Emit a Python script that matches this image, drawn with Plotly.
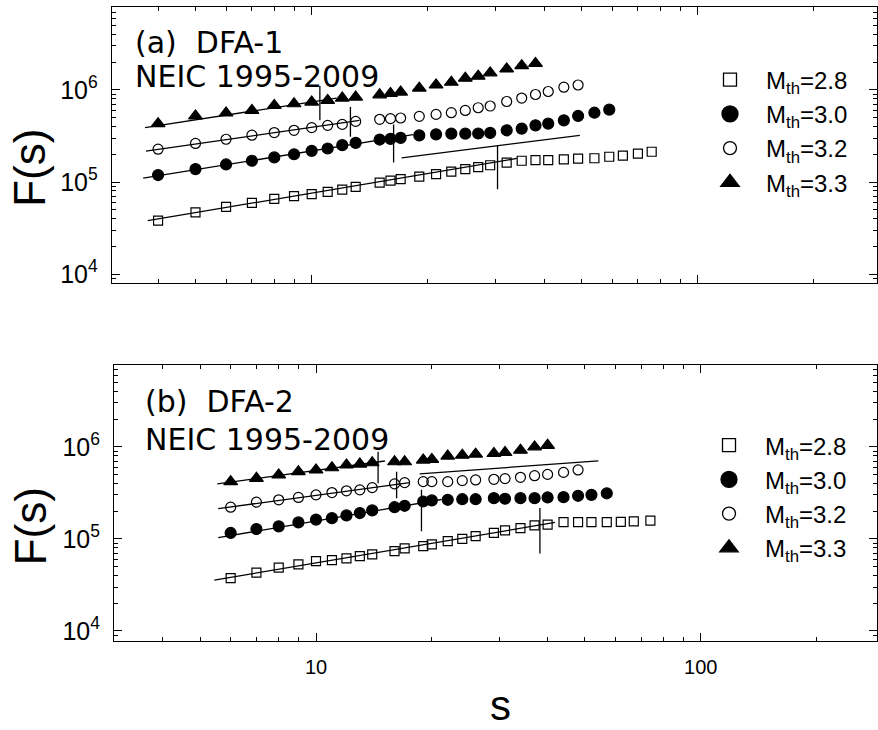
import plotly.graph_objects as go

# ---------------- data: panel (a) DFA-1 ----------------
s_a_28 = [4, 5, 6, 7, 8, 9, 10, 11, 12, 13, 15, 16, 17, 19, 21, 23, 25, 27, 29,
          32, 35, 38, 41, 45, 49, 54, 59, 64, 70, 76]
F_a_28 = [3.80e4, 4.68e4, 5.37e4, 5.93e4, 6.55e4, 7.01e4, 7.37e4, 7.80e4, 8.28e4, 8.84e4,
          9.85e4, 1.035e5, 1.077e5, 1.143e5, 1.22e5, 1.294e5, 1.38e5, 1.45e5, 1.52e5,
          1.62e5, 1.70e5, 1.73e5, 1.73e5, 1.76e5, 1.79e5, 1.81e5, 1.88e5, 1.93e5, 2.03e5, 2.13e5]
s_a_30 = [4, 5, 6, 7, 8, 9, 10, 11, 12, 13, 15, 16, 17, 19, 21, 23, 25, 27, 29,
          32, 35, 38, 41, 45, 49, 54, 59]
F_a_30 = [1.19e5, 1.38e5, 1.55e5, 1.70e5, 1.85e5, 2.0e5, 2.18e5, 2.31e5, 2.51e5, 2.66e5,
          2.89e5, 2.94e5, 3.01e5, 3.21e5, 3.29e5, 3.35e5, 3.35e5, 3.36e5, 3.41e5,
          3.64e5, 3.80e5, 4.12e5, 4.30e5, 4.67e5, 5.21e5, 5.65e5, 6.10e5]
s_a_32 = [4, 5, 6, 7, 8, 9, 10, 11, 12, 13, 15, 16, 17, 19, 21, 23, 25, 27, 29,
          32, 35, 38, 41, 45, 49]
F_a_32 = [2.27e5, 2.62e5, 2.91e5, 3.22e5, 3.44e5, 3.64e5, 3.89e5, 4.12e5, 4.22e5, 4.55e5,
          4.79e5, 4.87e5, 4.95e5, 5.16e5, 5.42e5, 5.65e5, 5.98e5, 6.40e5, 6.68e5,
          7.48e5, 8.15e5, 8.91e5, 9.60e5, 1.07e6, 1.13e6]
s_a_33 = [4, 5, 6, 7, 8, 9, 10, 11, 12, 13, 15, 16, 17, 19, 21, 23, 25, 27, 29,
          32, 35, 38]
F_a_33 = [4.30e5, 5.21e5, 5.61e5, 5.98e5, 6.78e5, 7.07e5, 7.38e5, 7.67e5, 8.15e5, 8.35e5,
          8.84e5, 9.13e5, 9.46e5, 1.045e6, 1.13e6, 1.21e6, 1.34e6, 1.41e6, 1.53e6,
          1.69e6, 1.83e6, 1.94e6]

# fitted power-law segments (end points) and crossover markers, panel (a)
fit_a_s = [[3.76, 34.0], [3.66, 18.3], [3.72, 13.3], [3.70, 11.6], [17.1, 49.5]]
fit_a_F = [[3.8e4, 1.80e5], [1.10e5, 3.27e5], [2.16e5, 4.67e5], [3.89e5, 8.15e5], [1.83e5, 3.21e5]]
cross_a_s = [30.3, 16.3, 12.6, 10.5]
cross_a_F = [[8.34e4, 2.49e5], [1.63e5, 4.2e5], [3.09e5, 6.52e5], [4.67e5, 1.10e6]]

# ---------------- data: panel (b) DFA-2 ----------------
s_b_28 = [6, 7, 8, 9, 10, 11, 12, 13, 14, 16, 17, 19, 20, 22, 24, 26, 29,
          31, 34, 37, 40, 44, 48, 52, 57, 62, 67, 74]
F_b_28 = [3.74e4, 4.30e4, 4.87e4, 5.29e4, 5.74e4, 5.89e4, 6.15e4, 6.51e4, 6.79e4, 7.37e4,
          7.88e4, 8.34e4, 8.70e4, 9.44e4, 1.0e5, 1.07e5, 1.16e5, 1.24e5, 1.31e5, 1.40e5,
          1.43e5, 1.52e5, 1.52e5, 1.52e5, 1.52e5, 1.53e5, 1.55e5, 1.58e5]
s_b_30 = [6, 7, 8, 9, 10, 11, 12, 13, 14, 16, 17, 19, 20, 22, 24, 26, 29,
          31, 34, 37, 40, 44, 48, 52, 57]
F_b_30 = [1.16e5, 1.28e5, 1.37e5, 1.51e5, 1.62e5, 1.68e5, 1.80e5, 1.91e5, 2.04e5, 2.21e5,
          2.29e5, 2.55e5, 2.62e5, 2.66e5, 2.70e5, 2.70e5, 2.77e5, 2.73e5, 2.77e5, 2.77e5,
          2.82e5, 2.84e5, 2.94e5, 3.01e5, 3.13e5]
s_b_32 = [6, 7, 8, 9, 10, 11, 12, 13, 14, 16, 17, 19, 20, 22, 24, 26, 29,
          31, 34, 37, 40, 44, 48]
F_b_32 = [2.21e5, 2.51e5, 2.66e5, 2.82e5, 3.01e5, 3.19e5, 3.33e5, 3.41e5, 3.61e5, 3.96e5,
          4.09e5, 4.19e5, 4.19e5, 4.19e5, 4.30e5, 4.37e5, 4.44e5, 4.52e5, 4.67e5, 4.86e5,
          5.02e5, 5.28e5, 5.61e5]
s_b_33 = [6, 7, 8, 9, 10, 11, 12, 13, 14, 16, 17, 19, 20, 22, 24, 26, 29,
          31, 34, 37, 40]
F_b_33 = [4.19e5, 4.55e5, 4.95e5, 5.37e5, 5.61e5, 5.93e5, 6.35e5, 6.50e5, 6.72e5, 6.89e5,
          6.89e5, 7.19e5, 7.30e5, 7.94e5, 8.13e5, 8.34e5, 8.47e5, 8.68e5, 9.20e5, 1.0e6, 1.04e6]

fit_b_s = [[5.44, 41.8], [5.57, 21.2], [5.57, 17.5], [5.54, 15.1], [18.6, 54.2]]
fit_b_F = [[3.56e4, 1.51e5], [1.03e5, 2.68e5], [2.13e5, 4.09e5], [3.96e5, 7.02e5], [5.08e5, 7.06e5]]
cross_b_s = [38.2, 18.8, 16.2, 14.5]
cross_b_F = [[6.95e4, 2.16e5], [1.21e5, 3.41e5], [2.77e5, 5.37e5], [4.02e5, 8.83e5]]

labels = ["M<sub>th</sub>=2.8", "M<sub>th</sub>=3.0", "M<sub>th</sub>=3.2", "M<sub>th</sub>=3.3"]

# ---------------- styles ----------------
sym = ["square-open", "circle", "circle-open", "triangle-up"]
msize = [9, 11, 10, 12]
lsize = [13, 16, 13, 16]
FONT = "Liberation Sans, Arial, sans-serif"

fig = go.Figure()

panels = [
    ("x", "y", "legend", [(s_a_28, F_a_28), (s_a_30, F_a_30), (s_a_32, F_a_32), (s_a_33, F_a_33)],
     fit_a_s, fit_a_F, cross_a_s, cross_a_F),
    ("x2", "y2", "legend2", [(s_b_28, F_b_28), (s_b_30, F_b_30), (s_b_32, F_b_32), (s_b_33, F_b_33)],
     fit_b_s, fit_b_F, cross_b_s, cross_b_F),
]

for xa, ya, leg, series, fs, fF, cs, cF in panels:
    for i, (sv, Fv) in enumerate(series):
        fig.add_trace(go.Scatter(
            x=sv, y=Fv, mode="markers", xaxis=xa, yaxis=ya, showlegend=False,
            marker=dict(symbol=sym[i], size=msize[i], color="black",
                        line=dict(width=1.2, color="black"))))
    for sv, Fv in zip(fs, fF):
        fig.add_trace(go.Scatter(x=sv, y=Fv, mode="lines", xaxis=xa, yaxis=ya,
                                 showlegend=False, line=dict(color="black", width=1.3)))
    for sc, Fv in zip(cs, cF):
        fig.add_trace(go.Scatter(x=[sc, sc], y=Fv, mode="lines", xaxis=xa, yaxis=ya,
                                 showlegend=False, line=dict(color="black", width=1.3)))
    # legend entries
    for i, lab in enumerate(labels):
        fig.add_trace(go.Scatter(
            x=[None], y=[None], mode="markers", xaxis=xa, yaxis=ya, name=lab,
            legend=leg, legendgroup=leg + str(i), showlegend=True,
            marker=dict(symbol=sym[i], size=lsize[i], color="black",
                        line=dict(width=1.3, color="black"))))

W, H = 878, 730


def xax(domain, rng, labels_on):
    return dict(type="log", domain=domain, range=rng, showline=True, linecolor="black",
                linewidth=1, mirror="ticks", ticks="inside", ticklen=8, tickwidth=1,
                tickcolor="black", dtick=1, showgrid=False, zeroline=False,
                showticklabels=labels_on, ticklabelstandoff=8,
                tickfont=dict(family=FONT, size=20, color="black"),
                minor=dict(ticks="inside", ticklen=4, tickwidth=1, tickcolor="black",
                           dtick="D1", showgrid=False))


def yax(domain, rng, anchor):
    return dict(type="log", domain=domain, range=rng, anchor=anchor, showline=True,
                linecolor="black", linewidth=1, mirror="ticks", ticks="inside", ticklen=8,
                tickwidth=1, tickcolor="black", dtick=1, exponentformat="power",
                showgrid=False, zeroline=False, ticklabelstandoff=9,
                tickfont=dict(family=FONT, size=20, color="black"),
                minor=dict(ticks="inside", ticklen=4, tickwidth=1, tickcolor="black",
                           dtick="D1", showgrid=False))


legend_common = dict(font=dict(family=FONT, size=24, color="black"), bgcolor="rgba(0,0,0,0)",
                     xanchor="left", yanchor="top", tracegroupgap=0, itemsizing="trace",
                     itemwidth=62)

fig.update_layout(
    width=W, height=H, margin=dict(l=0, r=0, t=0, b=0),
    paper_bgcolor="white", plot_bgcolor="white",
    xaxis=xax([111.7 / W, 877 / W], [0.4819, 2.4645], False) | dict(anchor="y"),
    yaxis=yax([1 - 285 / H, 1 - 7.3 / H], [3.903, 6.897], "x"),
    xaxis2=xax([114 / W, 877 / W], [0.4749, 2.4583], True) | dict(anchor="y2"),
    yaxis2=yax([1 - 645 / H, 1 - 367.3 / H], [3.895, 6.892], "x2"),
    legend=legend_common | dict(x=694 / W, y=1 - 58 / H),
    legend2=legend_common | dict(x=693 / W, y=1 - 426 / H),
    showlegend=True,
    annotations=[
        dict(text="(a)  DFA-1", x=133 / W, y=1 - 43 / H, xref="paper", yref="paper",
             xanchor="left", yanchor="middle", showarrow=False,
             font=dict(family="DejaVu Sans", size=30, color="black")),
        dict(text="NEIC 1995-2009", x=133 / W, y=1 - 77 / H, xref="paper", yref="paper",
             xanchor="left", yanchor="middle", showarrow=False,
             font=dict(family="DejaVu Sans", size=30, color="black")),
        dict(text="(b)  DFA-2", x=143 / W, y=1 - 404 / H, xref="paper", yref="paper",
             xanchor="left", yanchor="middle", showarrow=False,
             font=dict(family="DejaVu Sans", size=30, color="black")),
        dict(text="NEIC 1995-2009", x=143 / W, y=1 - 443 / H, xref="paper", yref="paper",
             xanchor="left", yanchor="middle", showarrow=False,
             font=dict(family="DejaVu Sans", size=30, color="black")),
        dict(text="F(s)", x=30 / W, y=1 - 169 / H, xref="paper", yref="paper",
             xanchor="center", yanchor="middle", showarrow=False, textangle=-90,
             font=dict(family=FONT, size=44, color="black")),
        dict(text="F(s)", x=30 / W, y=1 - 530 / H, xref="paper", yref="paper",
             xanchor="center", yanchor="middle", showarrow=False, textangle=-90,
             font=dict(family=FONT, size=44, color="black")),
        dict(text="s", x=500 / W, y=1 - 710 / H, xref="paper", yref="paper",
             xanchor="center", yanchor="middle", showarrow=False,
             font=dict(family=FONT, size=42, color="black")),
    ],
)

fig.write_html("out.html")
